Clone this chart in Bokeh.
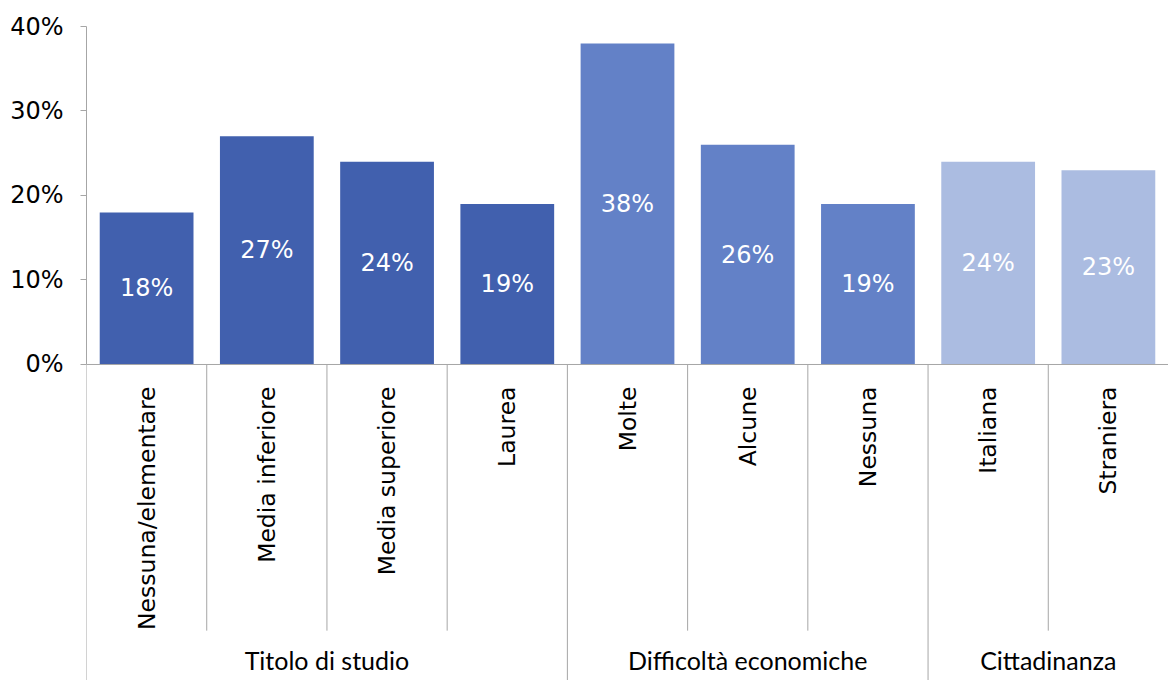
import numpy as np
from bokeh.plotting import figure
from bokeh.models import ColumnDataSource, Range1d, LinearAxis, NumeralTickFormatter, FixedTicker, Span
from bokeh.core.properties import value
from bokeh.embed import file_html
from bokeh.resources import INLINE

# ---- data ----
groups = ["Titolo di studio", "Difficoltà economiche", "Cittadinanza"]
group_sizes = [4, 3, 2]
categories = ["Nessuna/elementare", "Media inferiore", "Media superiore", "Laurea",
              "Molte", "Alcune", "Nessuna",
              "Italiana", "Straniera"]
values = [0.18, 0.27, 0.24, 0.19, 0.38, 0.26, 0.19, 0.24, 0.23]
group_colors = ["#4160AE", "#6381C7", "#ABBCE1"]
y_ticks = [0, 0.1, 0.2, 0.3, 0.4]

# ---- derived ----
n = len(categories)
xs = [i + 0.5 for i in range(n)]
colors = []
for g, s in enumerate(group_sizes):
    colors += [group_colors[g]] * s
labels = [f"{round(v * 100):.0f}%" for v in values]
mids = [v / 2 for v in values]

bounds = np.concatenate([[0], np.cumsum(group_sizes)])
group_centers = [(bounds[i] + bounds[i + 1]) / 2 for i in range(len(groups))]
inner = [b for b in range(1, n) if b not in bounds]

Y_BOTTOM = -0.374
INNER_END = -0.315
GRAY = "#A6A6A6"

p = figure(width=1168, height=680, x_range=Range1d(0, n), y_range=Range1d(Y_BOTTOM, 0.4),
           x_axis_location=None, y_axis_location=None,
           output_backend="svg", toolbar_location=None,
           min_border_left=86, min_border_right=0, min_border_top=26, min_border_bottom=0)
p.outline_line_color = None
p.xgrid.visible = False
p.ygrid.visible = False
p.background_fill_color = "white"

yaxis = LinearAxis(bounds=(0, 0.4), ticker=FixedTicker(ticks=y_ticks),
                   formatter=NumeralTickFormatter(format="0%"),
                   major_tick_out=6, major_tick_in=0, minor_tick_out=0, minor_tick_in=0,
                   axis_line_color=GRAY, major_tick_line_color=GRAY,
                   major_label_text_font="DejaVu Sans", major_label_text_font_size="24px",
                   major_label_text_color="#000000", major_label_standoff=17)
p.add_layout(yaxis, "left")

src = ColumnDataSource(dict(x=xs, v=values, color=colors, label=labels, mid=mids, cat=categories))

p.vbar(x="x", top="v", bottom=0, width=0.78, fill_color="color", line_color=None, source=src)

p.add_layout(Span(location=0, dimension="width", line_color=GRAY, line_width=1))

p.text(x="x", y="mid", text="label", source=src, text_color="white",
       text_font=value("DejaVu Sans"), text_font_size="24px",
       text_align="center", text_baseline="middle")

p.text(x="x", y=0, text="cat", source=src, angle=np.pi / 2, y_offset=22,
       text_color="black", text_font=value("DejaVu Sans"), text_font_size="23.5px",
       text_align="right", text_baseline="middle")

# separators
p.segment(x0=inner, y0=[0] * len(inner), x1=inner, y1=[INNER_END] * len(inner),
          line_color=GRAY, line_width=1)
gb = [float(b) for b in bounds]
p.segment(x0=gb, y0=[0] * len(gb), x1=gb, y1=[Y_BOTTOM] * len(gb),
          line_color=GRAY, line_width=1)

p.text(x=group_centers, y=[0] * len(groups), text=groups, y_offset=296,
       text_color="black", text_font=value("Lato"), text_font_size="25px",
       text_align="center", text_baseline="middle")

open("out.html", "w").write(file_html(p, INLINE))
